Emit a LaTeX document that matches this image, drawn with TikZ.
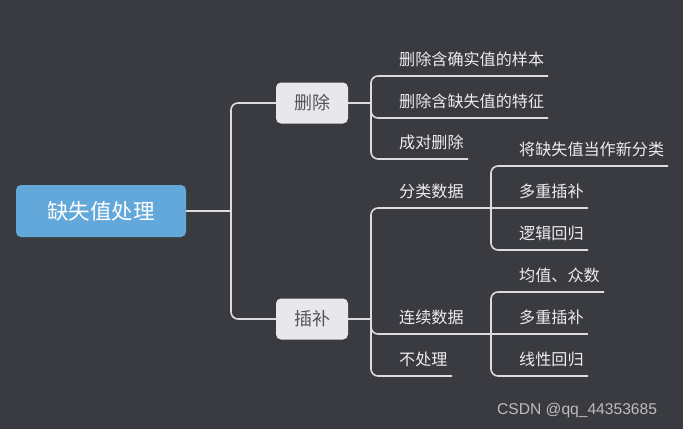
\documentclass[tikz,border=0pt]{standalone}
\usepackage{fontspec}
\setmainfont{Noto Sans CJK SC}
\newfontfamily\wmfont{Liberation Sans}
\definecolor{bg}{HTML}{3A3B40}
\definecolor{rootc}{HTML}{62A8DA}
\definecolor{boxc}{HTML}{E8E8EA}
\definecolor{boxt}{HTML}{555558}
\definecolor{linec}{HTML}{DCDCDE}
\definecolor{txtc}{HTML}{EDEDED}
\definecolor{wmc}{HTML}{BDBDC0}
\begin{document}
\begin{tikzpicture}[x=1pt,y=-1pt,
  conn/.style={draw=linec,line width=1.6pt,rounded corners=7pt},
  rootbox/.style={fill=rootc,rounded corners=5pt,minimum width=170pt,minimum height=52pt,inner sep=0pt,text=white,font=\fontsize{21.5}{24}\selectfont},
  midbox/.style={fill=boxc,rounded corners=5pt,minimum width=72pt,minimum height=41pt,inner sep=0pt,text=boxt,font=\fontsize{18}{20}\selectfont},
  leaf/.style={anchor=west,inner sep=0pt,text=txtc,font=\fontsize{16.1}{18}\selectfont}]
\useasboundingbox[fill=bg] (0,0) rectangle (683,429);
% main nodes
\node[rootbox] (root) at (101,211) {缺失值处理};
\node[midbox] (del) at (312,103) {删除};
\node[midbox] (cha) at (312,319) {插补};
% joints
\coordinate (j0) at (231,211);
\coordinate (j1) at (371,103);
\coordinate (j2) at (371,319);
\draw[conn] (root.east) -- (j0);
\draw[conn] (j0) |- (del.west);
\draw[conn] (j0) |- (cha.west);
% delete branch
\coordinate (u11) at (548,76);
\coordinate (u12) at (548,118);
\coordinate (u13) at (468,159);
\draw[conn] (del.east) -- (j1);
\draw[conn] (j1) |- (u11);
\draw[conn] (j1) |- (u12);
\draw[conn] (j1) |- (u13);
\node[leaf] (t11) at (399,59) {删除含确实值的样本};
\node[leaf] (t12) at (399,101) {删除含缺失值的特征};
\node[leaf] (t13) at (399,142) {成对删除};
% impute branch
\coordinate (u21) at (491,208);
\coordinate (u22) at (491,334);
\coordinate (u23) at (452,376);
\draw[conn] (cha.east) -- (j2);
\draw[conn] (j2) |- (u21);
\draw[conn] (j2) |- (u22);
\draw[conn] (j2) |- (u23);
\node[leaf] (t21) at (399,191) {分类数据};
\node[leaf] (t22) at (399,317) {连续数据};
\node[leaf] (t23) at (399,359) {不处理};
% categorical sub
\coordinate (u211) at (668,166);
\coordinate (u212) at (588,208);
\coordinate (u213) at (588,250);
\draw[conn] (u21) |- (u211);
\draw[conn] (u21) -- (u212);
\draw[conn] (u21) |- (u213);
\node[leaf] (t211) at (519,149) {将缺失值当作新分类};
\node[leaf] (t212) at (519,191) {多重插补};
\node[leaf] (t213) at (519,233) {逻辑回归};
% continuous sub
\coordinate (u221) at (604,292);
\coordinate (u222) at (588,334);
\coordinate (u223) at (588,376);
\draw[conn] (u22) |- (u221);
\draw[conn] (u22) -- (u222);
\draw[conn] (u22) |- (u223);
\node[leaf] (t221) at (519,275) {均值、众数};
\node[leaf] (t222) at (519,317) {多重插补};
\node[leaf] (t223) at (519,359) {线性回归};
% watermark
\node[anchor=west,inner sep=0pt,text=wmc,font=\wmfont\fontsize{15.6}{18}\selectfont] (wm) at (497,410) {CSDN @qq\_44353685};
\end{tikzpicture}
\end{document}
